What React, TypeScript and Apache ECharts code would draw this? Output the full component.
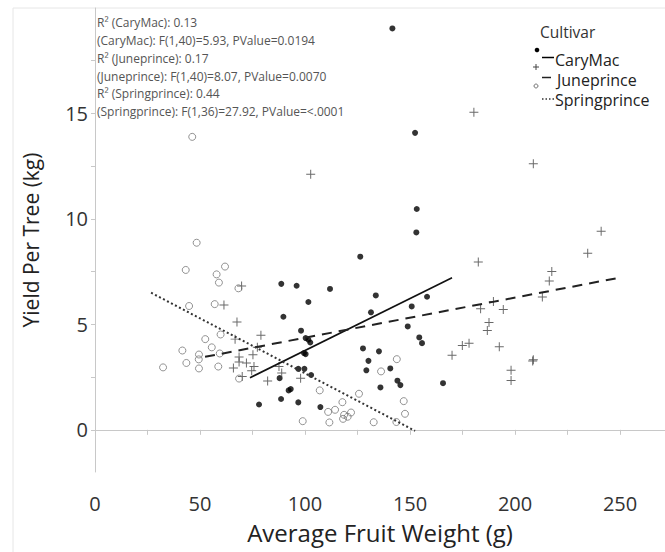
import React, { useEffect, useRef } from "react";
import * as echarts from "echarts";

// [average fruit weight (g), yield per tree (kg)]
const caryMac: [number, number][] = [
  [141.6, 19.03], [152.4, 14.08], [153.2, 10.47], [153.0, 9.36], [126.3, 8.21],
  [88.7, 6.92], [96.0, 6.83], [111.9, 6.68], [133.7, 6.37], [158.1, 6.31],
  [101.6, 6.06], [150.8, 5.85], [131.4, 5.57], [89.7, 5.36], [148.9, 4.9],
  [98.1, 4.7], [154.4, 4.38], [100.3, 4.35], [101.6, 4.27], [102.5, 4.14],
  [155.7, 4.11], [127.6, 3.86], [135.2, 3.72], [99.5, 3.64], [100.3, 3.59],
  [130.2, 3.27], [140.6, 2.91], [96.8, 2.89], [99.7, 2.89], [129.2, 2.82],
  [102.9, 2.6], [87.9, 2.45], [144.0, 2.33], [165.7, 2.21], [145.4, 2.12],
  [135.9, 2.01], [93.2, 1.93], [92.2, 1.87], [88.6, 1.46], [96.8, 1.3],
  [78.1, 1.2], [107.3, 1.08],
];

const juneprince: [number, number][] = [
  [180.4, 15.06], [208.7, 12.62], [102.7, 12.12], [241.0, 9.41], [234.6, 8.37],
  [182.5, 7.96], [217.5, 7.51], [216.3, 7.06], [69.8, 6.82], [213.0, 6.3],
  [189.7, 6.08], [61.4, 5.92], [183.6, 5.74], [194.4, 5.7], [67.6, 5.11],
  [187.6, 5.09], [186.8, 4.71], [79.0, 4.48], [66.7, 4.3], [178.1, 4.1],
  [174.9, 4.0], [192.5, 3.94], [77.3, 3.92], [170.0, 3.54], [75.2, 3.56],
  [68.6, 3.45], [208.7, 3.32], [208.4, 3.26], [68.6, 3.21], [72.1, 3.17],
  [87.6, 3.0], [75.7, 3.0], [65.9, 2.93], [198.1, 2.82], [74.6, 2.8],
  [88.9, 2.69], [70.1, 2.53], [97.9, 2.45], [198.1, 2.34], [82.2, 2.31],
];

const springprince: [number, number][] = [
  [46.3, 13.89], [48.4, 8.87], [43.2, 7.58], [61.9, 7.74], [57.9, 7.37],
  [59.0, 6.98], [68.3, 6.71], [44.8, 5.87], [57.0, 5.96], [59.8, 4.52],
  [52.5, 4.3], [55.6, 3.91], [41.6, 3.76], [49.5, 3.57], [49.4, 3.34],
  [59.4, 3.62], [32.4, 2.96], [43.5, 3.17], [49.5, 2.91], [58.7, 3.0],
  [68.6, 2.43], [136.2, 2.77], [107.0, 1.87], [125.7, 1.71], [117.8, 1.31],
  [114.3, 0.95], [111.0, 0.85], [121.9, 0.82], [118.6, 0.71], [120.3, 0.62],
  [118.1, 0.52], [98.9, 0.41], [111.6, 0.35], [132.7, 0.36], [143.7, 3.35],
  [147.0, 1.36], [147.6, 0.76], [143.5, 0.37],
];

// fitted line end points
const caryMacFit: [number, number][] = [[73.8, 2.47], [170.0, 7.21]];
const juneprinceFit: [number, number][] = [[52.4, 3.46], [249.5, 7.21]];
const springprinceFit: [number, number][] = [[26.7, 6.5], [152.4, -0.05]];

const xLabelValues = [0, 50, 100, 150, 200, 250];
const xTickValues = [0, 25, 50, 75, 100, 125, 150, 175, 200, 225, 250];
const yLabelValues = [0, 5, 10, 15];
const yTickValues = [0, 2.5, 5, 7.5, 10, 12.5, 15, 17.5];

const cultivars = ["CaryMac", "Juneprince", "Springprince"];
const statLines = [
  "R² (CaryMac): 0.13",
  "(CaryMac): F(1,40)=5.93, PValue=0.0194",
  "R² (Juneprince): 0.17",
  "(Juneprince): F(1,40)=8.07, PValue=0.0070",
  "R² (Springprince): 0.44",
  "(Springprince): F(1,36)=27.92, PValue=<.0001",
];

const FONT = "'Open Sans', 'Noto Sans', sans-serif";
const PLUS = "path://M4.45,0H5.55V10H4.45Z M0,4.45H10V5.55H0Z";

export default function App() {
  const ref = useRef<HTMLDivElement>(null);

  useEffect(() => {
    document.body.style.margin = "0";
    if (!ref.current) return;
    const chart = echarts.init(ref.current, undefined, { renderer: "svg" });

    const statTexts = statLines.map((t, i) => ({
      type: "text",
      x: 97,
      y: 22.7 + i * 17.8,
      silent: true,
      style: {
        text: t,
        fill: "#555",
        font: `12px ${FONT}`,
        verticalAlign: "middle",
      },
    }));

    const legendX = 536;
    const legendText = (text: string, x: number, y: number) => ({
      type: "text",
      x,
      y,
      style: {
        text,
        fill: "#222",
        font: `16px ${FONT}`,
        lineHeight: 17,
        verticalAlign: "middle",
      },
    });
    const legendEls: any[] = [
      {
        type: "text",
        x: 540,
        y: 32,
        style: { text: "Cultivar", fill: "#333", font: `15.5px ${FONT}`, verticalAlign: "middle" },
      },
      // CaryMac
      { type: "circle", shape: { cx: legendX + 1, cy: 50, r: 2.3 }, style: { fill: "#000" } },
      { type: "line", shape: { x1: 542, y1: 57.5, x2: 554, y2: 57.5 }, style: { stroke: "#000", lineWidth: 1.5 } },
      legendText(cultivars[0], 555, 60),
      // Juneprince
      { type: "line", shape: { x1: legendX - 3, y1: 67, x2: legendX + 3, y2: 67 }, style: { stroke: "#444", lineWidth: 1 } },
      { type: "line", shape: { x1: legendX, y1: 64, x2: legendX, y2: 70 }, style: { stroke: "#444", lineWidth: 1 } },
      { type: "line", shape: { x1: 542, y1: 77.5, x2: 551, y2: 77.5 }, style: { stroke: "#222", lineWidth: 1.5 } },
      legendText(cultivars[1], 557, 80),
      // Springprince
      { type: "circle", shape: { cx: legendX, cy: 86, r: 2 }, style: { fill: "none", stroke: "#777", lineWidth: 1 } },
      {
        type: "line",
        shape: { x1: 542, y1: 99, x2: 554, y2: 99 },
        style: { stroke: "#333", lineWidth: 1.5, lineDash: [1.5, 2] },
      },
      legendText(cultivars[2], 555, 100),
    ];

    chart.setOption({
      animation: false,
      backgroundColor: "#fff",
      textStyle: { fontFamily: FONT },
      grid: { left: 95, top: 8, right: 0, bottom: 80, containLabel: false },
      graphic: [
        {
          type: "rect",
          z: -10,
          silent: true,
          shape: { x: 13, y: 8, width: 700, height: 600 },
          style: { fill: "none", stroke: "#e6e6e6", lineWidth: 1 },
        },
        ...statTexts,
        ...legendEls,
      ],
      xAxis: {
        type: "value",
        min: 0,
        max: 271.4,
        name: "Average Fruit Weight (g)",
        nameLocation: "middle",
        nameGap: 48,
        nameTextStyle: { fontSize: 24, color: "#222", fontFamily: FONT },
        axisLine: { show: true, lineStyle: { color: "#c8c8c8", width: 1 } },
        axisTick: {
          show: true,
          length: 5,
          customValues: xTickValues,
          lineStyle: { color: "#c8c8c8" },
        },
        axisLabel: {
          fontSize: 20,
          color: "#333",
          margin: 21,
          customValues: xLabelValues,
          fontFamily: FONT,
        },
        splitLine: { show: false },
      },
      yAxis: {
        type: "value",
        min: -2,
        max: 20,
        name: "Yield Per Tree (kg)",
        nameLocation: "middle",
        nameGap: 54,
        nameTextStyle: { fontSize: 21, color: "#222", fontFamily: FONT },
        axisLine: { show: true, lineStyle: { color: "#c8c8c8", width: 1 } },
        axisTick: {
          show: true,
          length: 4,
          customValues: yTickValues,
          lineStyle: { color: "#c8c8c8" },
        },
        axisLabel: {
          fontSize: 20,
          color: "#333",
          margin: 7,
          customValues: yLabelValues,
          fontFamily: FONT,
        },
        splitLine: { show: false },
      },
      series: [
        {
          name: cultivars[0],
          type: "scatter",
          data: caryMac,
          symbol: "circle",
          symbolSize: 6,
          itemStyle: { color: "#000" },
          z: 3,
        },
        {
          name: cultivars[1],
          type: "scatter",
          data: juneprince,
          symbol: PLUS,
          symbolSize: 9,
          itemStyle: { color: "#444" },
          z: 3,
        },
        {
          name: cultivars[2],
          type: "scatter",
          data: springprince,
          symbol: "circle",
          symbolSize: 7,
          itemStyle: { color: "rgba(255,255,255,0)", borderColor: "#777", borderWidth: 1 },
          z: 3,
        },
        {
          name: cultivars[0] + " fit",
          type: "line",
          data: caryMacFit,
          showSymbol: false,
          symbol: "none",
          lineStyle: { color: "#111", width: 1.6, type: "solid" },
          z: 4,
        },
        {
          name: cultivars[1] + " fit",
          type: "line",
          data: juneprinceFit,
          showSymbol: false,
          symbol: "none",
          lineStyle: { color: "#222", width: 2, type: [10, 7] },
          z: 4,
        },
        {
          name: cultivars[2] + " fit",
          type: "line",
          data: springprinceFit,
          showSymbol: false,
          symbol: "none",
          lineStyle: { color: "#333", width: 2, type: [2, 2.5] },
          z: 4,
        },
      ],
    });

    return () => chart.dispose();
  }, []);

  return <div ref={ref} style={{ width: 665, height: 552 }} />;
}
